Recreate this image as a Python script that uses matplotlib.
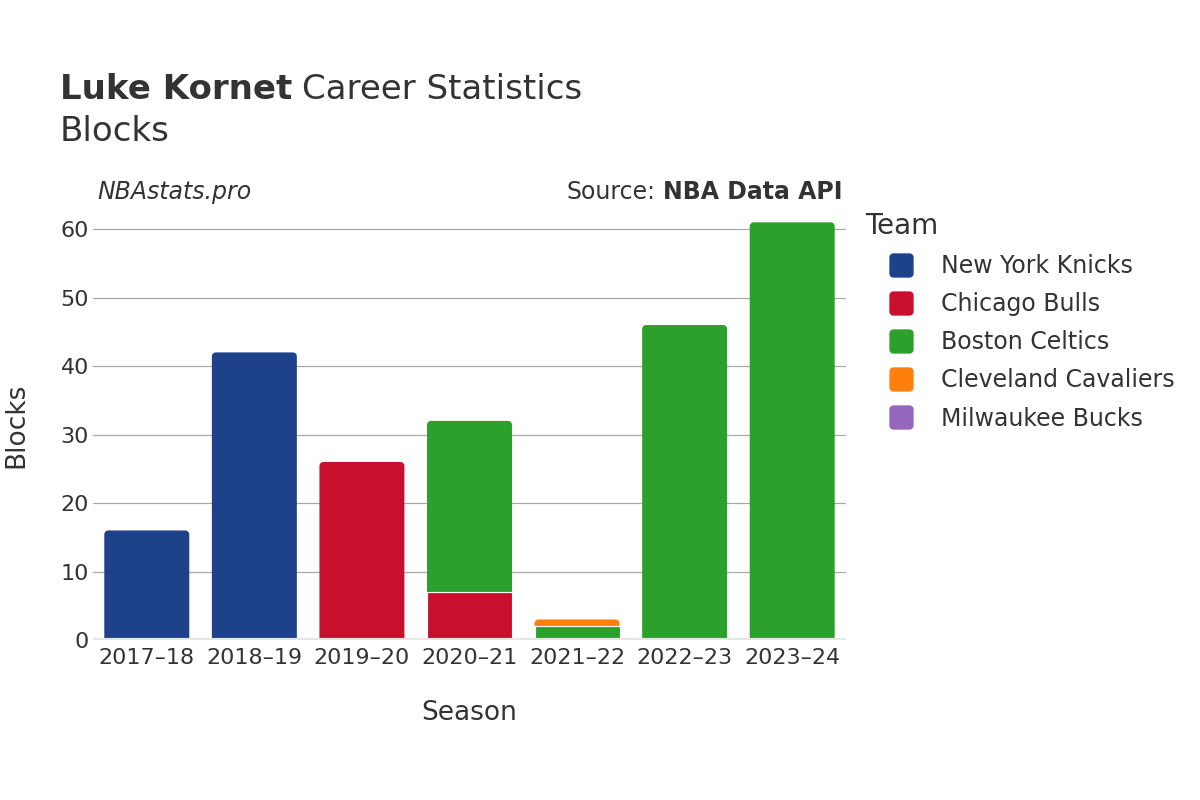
import numpy as np
import matplotlib
matplotlib.use("Agg")
import matplotlib.pyplot as plt
from matplotlib.lines import Line2D
from matplotlib.patches import Polygon
from matplotlib.path import Path

# data
seasons = ["2017–18", "2018–19", "2019–20", "2020–21", "2021–22", "2022–23", "2023–24"]
teams = ["New York Knicks", "Chicago Bulls", "Boston Celtics", "Cleveland Cavaliers", "Milwaukee Bucks"]
colors = ["#1d428a", "#c8102e", "#2ca02c", "#ff7f0e", "#9467bd"]

knicks = [16, 42, 0, 0, 0, 0, 0]
bulls = [0, 0, 26, 7, 0, 0, 0]
celtics = [0, 0, 0, 25, 2, 46, 61]
cavaliers = [0, 0, 0, 0, 1, 0, 0]
bucks = [0, 0, 0, 0, 0, 0, 0]
series = [knicks, bulls, celtics, cavaliers, bucks]

txt = "#333333"
plt.rcParams["font.family"] = ["DejaVu Sans"]


def rounded_top(bx, by, bw, bh, rx, ry):
    ry = min(ry, bh)
    t = np.linspace(0, np.pi / 2, 12)
    left = [(bx + rx - rx * np.cos(a), by + bh - ry + ry * np.sin(a)) for a in t]
    right = [(bx + bw - rx + rx * np.sin(a), by + bh - ry + ry * np.cos(a)) for a in t]
    return [(bx, by)] + left + right + [(bx + bw, by)]


def rounded_square():
    t = np.linspace(0, np.pi / 2, 8)
    r, h = 0.3, 1.0
    pts = []
    for cx, cy, a0 in [(h - r, h - r, 0), (-h + r, h - r, np.pi / 2),
                       (-h + r, -h + r, np.pi), (h - r, -h + r, 1.5 * np.pi)]:
        pts += [(cx + r * np.cos(a0 + a), cy + r * np.sin(a0 + a)) for a in t]
    pts.append(pts[0])
    return Path(pts, closed=True)


fig = plt.figure(figsize=(12, 8), dpi=100)
ax = fig.add_axes([0.0775, 0.2, 0.6275, 0.5375])
ax.set_xlim(-0.5, len(seasons) - 0.5)
ax.set_ylim(0, 62.8)

x = np.arange(len(seasons))
bottom = np.zeros(len(seasons))
top_patch = {}
for vals, col in zip(series, colors):
    vals = np.array(vals, dtype=float)
    bars = ax.bar(x, vals, width=0.79, bottom=bottom, color=col, edgecolor="white",
                  linewidth=0.8, zorder=3)
    for i, b in enumerate(bars):
        if vals[i] > 0:
            top_patch[i] = (b, col)
    bottom += vals

# round the top corners of the top segment of every stack
fig.canvas.draw()
bb = ax.get_window_extent()
xu = len(seasons) / bb.width
yu = 62.8 / bb.height
for i, (b, col) in top_patch.items():
    b.set_visible(False)
    bx, by, bw, bh = b.get_x(), b.get_y(), b.get_width(), b.get_height()
    ax.add_patch(Polygon(rounded_top(bx, by, bw, bh, 4 * xu, 4 * yu), closed=True,
                         facecolor=col, edgecolor="none", zorder=3))
    if by > 0:
        ax.plot([bx, bx + bw], [by, by], color="white", linewidth=0.8, zorder=3.5)

ax.set_yticks([0, 10, 20, 30, 40, 50, 60])
ax.set_xticks(x)
ax.set_xticklabels(seasons)
ax.grid(axis="y", color="#a8a8a8", linewidth=0.9, zorder=0)
ax.axhline(0, color="#e6e6e6", linewidth=3, zorder=4)
for s in ax.spines.values():
    s.set_visible(False)
ax.tick_params(axis="both", length=0, labelsize=16, colors=txt)
ax.tick_params(axis="x", pad=6)
ax.tick_params(axis="y", pad=3)

ax.set_xlabel("Season", fontsize=19, color=txt, labelpad=23)
ax.set_ylabel("Blocks", fontsize=19, color=txt, labelpad=22)

# titles
renderer = fig.canvas.get_renderer()
t1 = fig.text(0.05, 0.888, "Luke Kornet", fontsize=24.5, fontweight="bold", color=txt, va="center")
w1 = t1.get_window_extent(renderer).width / fig.bbox.width
fig.text(0.05 + w1 + 0.008, 0.888, "Career Statistics", fontsize=24.5, color=txt, va="center")
fig.text(0.05, 0.836, "Blocks", fontsize=24.5, color=txt, va="center")
fig.text(0.081, 0.76, "NBAstats.pro", fontsize=17, style="italic", color=txt, va="center")
t2 = fig.text(0.702, 0.76, "NBA Data API", fontsize=17, fontweight="bold", color=txt,
              va="center", ha="right")
w2 = t2.get_window_extent(renderer).width / fig.bbox.width
fig.text(0.702 - w2 - 0.006, 0.76, "Source:", fontsize=17, color=txt, va="center", ha="right")

# legend
marker = rounded_square()
handles = [Line2D([0], [0], marker=marker, linestyle="none", markersize=16.5,
                  markerfacecolor=c, markeredgecolor=c) for c in colors]
leg = fig.legend(handles, teams, loc="upper left", bbox_to_anchor=(0.7115, 0.75),
                 frameon=False, fontsize=17, title="Team", title_fontsize=20,
                 labelspacing=0.6, handletextpad=0.2, borderpad=0, handlelength=3.0)
leg._legend_box.align = "left"
for t in leg.get_texts():
    t.set_color(txt)
leg.get_title().set_color(txt)

fig.savefig("out.png", dpi=100)
